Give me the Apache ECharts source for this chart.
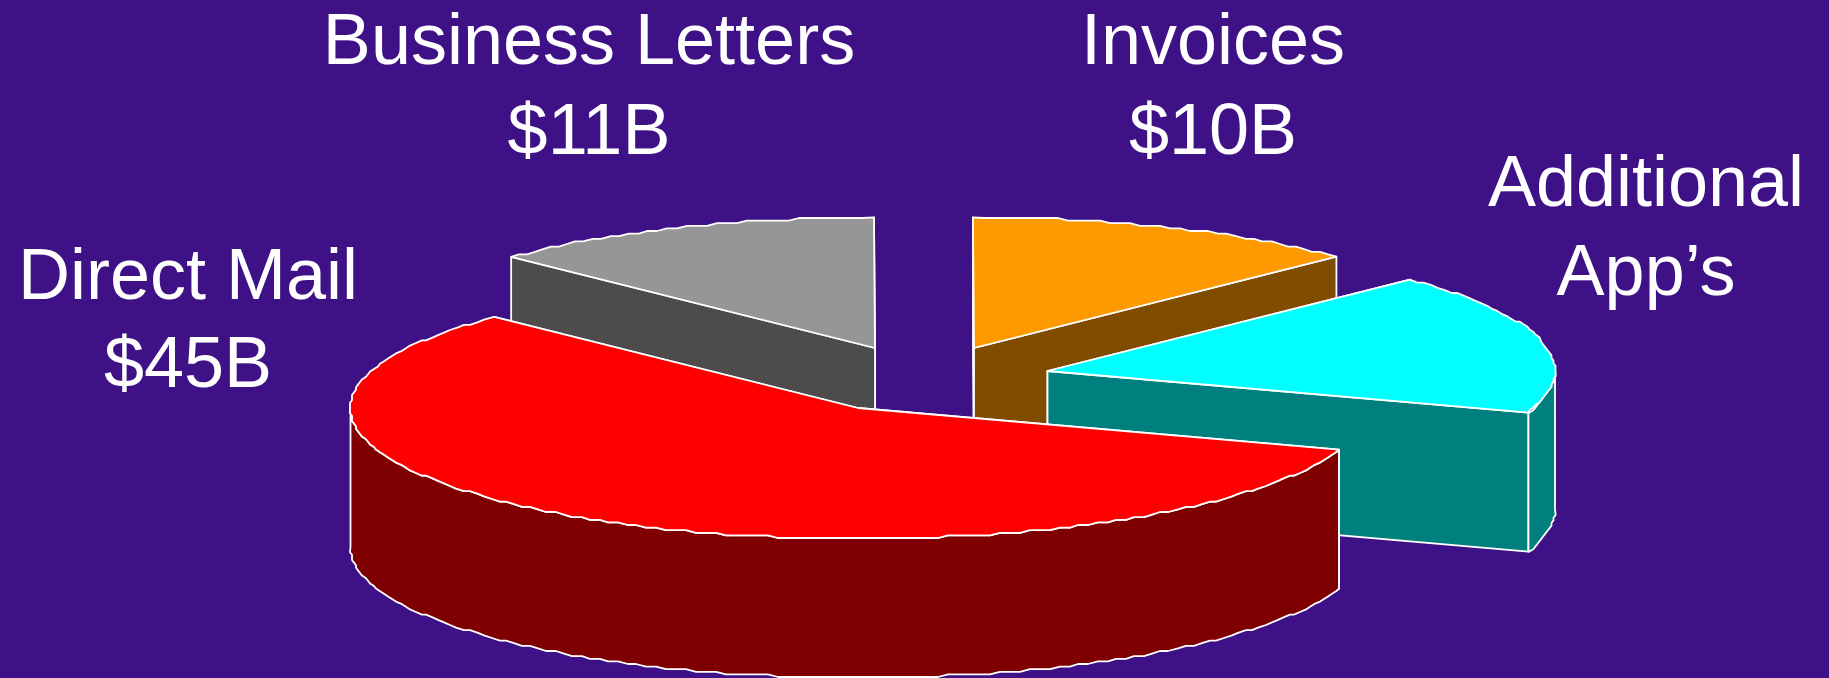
<!DOCTYPE html>
<html>
<head>
<meta charset="utf-8">
<style>html,body{margin:0;padding:0;background:#3f1186}#chart{width:1829px;height:678px}</style>
<script src="https://cdn.jsdelivr.net/npm/echarts@6/dist/echarts.min.js"></script>
</head>
<body>
<div id="chart"></div>
<script>
// Data, in clockwise order, which is also the paint order.
const categories = ['Business Letters', 'Invoices', 'Additional App’s', 'Direct Mail'];
const labelFirstLines = ['Business Letters', 'Invoices', 'Additional', 'Direct Mail'];
const labelSecondLines = ['$11B', '$10B', 'App’s', '$45B'];
const sliceValues = [10, 10, 13.8, 45];

// Styles
const topColors = ['#969696', '#ff9900', '#00ffff', '#ff0000'];
const sideColors = ['#4c4c4c', '#7f4c00', '#007f7f', '#7f0000'];
const backgroundColor = '#3f1186';

// Layout
const radiusX = 507.5, radiusY = 130.6, depth = 139;
const firstSliceAngle = 135.8;
const sliceCenters = [[875, 348], [974, 348], [1047.5, 371], [858, 408]];
const labelBaselines = [[589, 65, 155], [1213, 65, 155], [1646, 207, 296], [188, 300, 388]];
const labelTopOffset = 57;
const labelFont = '72px "Liberation Sans", Arial, sans-serif';

const total = sliceValues.reduce((a, b) => a + b, 0);
const rad = d => d * Math.PI / 180;
const snap = (v, q) => Math.round(v / q) * q;

function rimPoint(c, a) {
  return [c[0] + radiusX * Math.cos(rad(a)), c[1] - radiusY * Math.sin(rad(a))];
}
// Arc from a0 down to a1 with the finely stepped outline of the original plot.
function arc(c, a0, a1) {
  const pts = [rimPoint(c, a0)];
  for (let a = a0 - 1.2; a > a1 + 0.6; a -= 1.2) {
    const p = rimPoint(c, a);
    const q = [c[0] + snap(p[0] - c[0], 2), c[1] + snap(p[1] - c[1], 2.6)];
    const last = pts[pts.length - 1];
    if (q[0] !== last[0] || q[1] !== last[1]) pts.push(q);
  }
  pts.push(rimPoint(c, a1));
  return pts;
}
const lower = p => [p[0], p[1] + depth];
const poly = (points, fill) => ({
  type: 'polygon', shape: { points },
  style: { fill, stroke: '#ffffff', lineWidth: 1.8, lineJoin: 'round' }
});
const text = (t, x, y) => ({
  type: 'text',
  style: { text: t, x, y: y - labelTopOffset, fill: '#ffffff', font: labelFont, textAlign: 'center', textVerticalAlign: 'top' }
});

function renderSlice(params, api) {
  const i = params.dataIndex;
  let start = firstSliceAngle;
  for (let k = 0; k < i; k++) start -= 360 * sliceValues[k] / total;
  const end = start - 360 * api.value(0) / total;
  const c = sliceCenters[i];
  const children = [];

  // radial walls, the one further back first
  [start, end].sort((a, b) => Math.sin(rad(b)) - Math.sin(rad(a))).forEach(a => {
    const p = rimPoint(c, a);
    children.push(poly([c, p, lower(p), lower(c)], sideColors[i]));
  });
  // outer wall: only the part of the rim facing the viewer
  const from = Math.min(start, 0);
  const to = Math.max(end, -180);
  if (from > to) {
    const rim = arc(c, from, to);
    children.push(poly(rim.concat(rim.map(lower).reverse()), sideColors[i]));
  }
  // top face
  children.push(poly([c].concat(arc(c, start, end)), topColors[i]));
  // label
  const l = labelBaselines[i];
  children.push(text(labelFirstLines[i], l[0], l[1]));
  children.push(text(labelSecondLines[i], l[0], l[2]));
  return { type: 'group', children };
}

const chart = echarts.init(document.getElementById('chart'), null, { renderer: 'canvas' });
chart.setOption({
  backgroundColor,
  animation: false,
  series: [{
    type: 'custom',
    coordinateSystem: 'none',
    renderItem: renderSlice,
    data: sliceValues.map((v, i) => ({ name: categories[i], value: [v] })),
    encode: { value: 0 },
    silent: true,
    clip: false
  }]
});
</script>
</body>
</html>
